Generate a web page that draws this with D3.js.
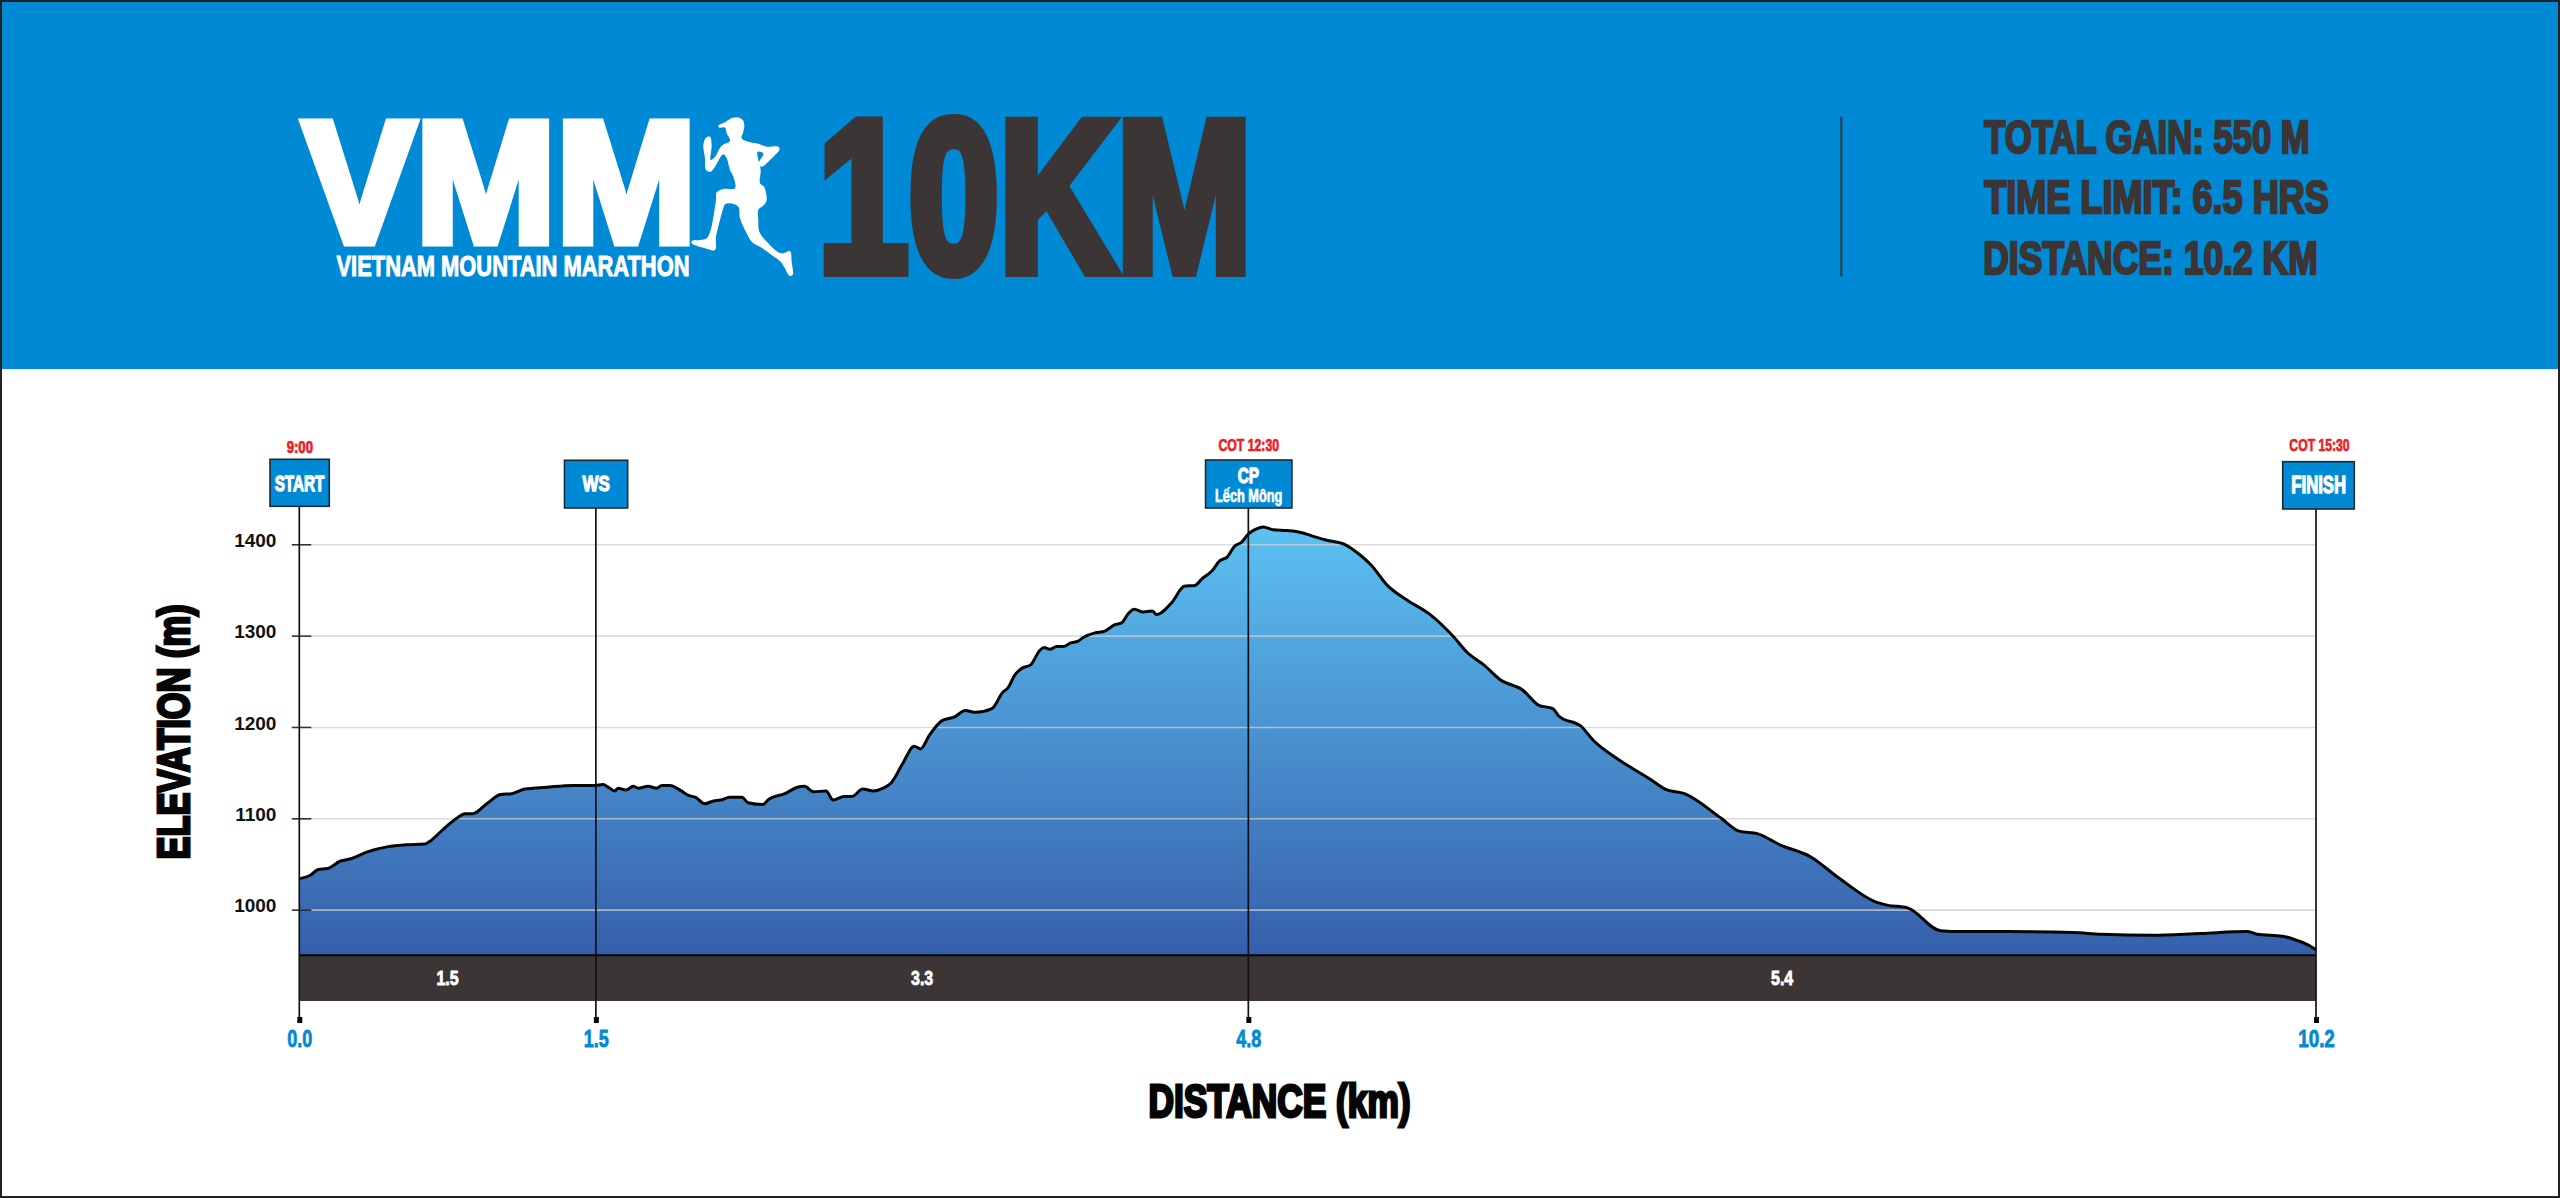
<!DOCTYPE html>
<html>
<head>
<meta charset="utf-8">
<title>VMM 10KM elevation profile</title>
<script src="https://cdn.jsdelivr.net/npm/d3@7"></script>
<style>
  html, body { margin: 0; padding: 0; background: #fff; }
  svg { display: block; }
  text { font-family: "Liberation Sans Narrow", "Liberation Sans", sans-serif; font-weight: 700; }
</style>
</head>
<body>
<div id="chart"></div>
<script>
// distance along the course (km) and elevation (m)
const distances = [0, .058, .096, .142, .206, .265, .341, .45, .543, .636, .661, .728, .796, .838, .877, .948, 1.018, 1.074, 1.141, 1.251, 1.386, 1.495, 1.537, 1.563, 1.596, 1.613, 1.652, 1.689, 1.714, 1.765, 1.807, 1.833, 1.875, 1.932, 1.969, 2.005, 2.05, 2.095, 2.131, 2.176, 2.239, 2.27, 2.344, 2.375, 2.456, 2.519, 2.555, 2.601, 2.664, 2.7, 2.754, 2.795, 2.85, 2.904, 2.953, 2.994, 3.052, 3.11, 3.142, 3.187, 3.251, 3.314, 3.368, 3.422, 3.503, 3.558, 3.585, 3.619, 3.653, 3.699, 3.746, 3.766, 3.796, 3.83, 3.864, 3.901, 3.939, 3.965, 4.024, 4.074, 4.125, 4.159, 4.192, 4.223, 4.268, 4.314, 4.336, 4.412, 4.476, 4.53, 4.564, 4.617, 4.656, 4.693, 4.731, 4.765, 4.799, 4.833, 4.875, 4.925, 4.993, 5.065, 5.124, 5.187, 5.286, 5.367, 5.422, 5.503, 5.602, 5.72, 5.837, 5.91, 5.991, 6.072, 6.19, 6.267, 6.34, 6.37, 6.487, 6.542, 6.668, 6.831, 6.908, 7.006, 7.192, 7.282, 7.378, 7.489, 7.643, 7.785, 7.979, 8.03, 8.134, 8.301, 8.404, 8.636, 8.972, 9.114, 9.372, 9.617, 9.855, 9.901, 10.03, 10.108, 10.172, 10.2];
const elevations = [1034, 1038, 1044, 1045, 1053, 1056, 1063, 1069, 1071, 1072, 1075, 1088, 1100, 1105, 1105, 1116, 1126, 1127, 1132, 1134, 1136, 1136, 1137, 1134, 1130, 1133, 1131, 1135, 1133, 1135, 1133, 1136, 1136, 1130, 1125, 1123, 1116, 1119, 1120, 1123, 1123, 1117, 1115, 1121, 1127, 1134, 1135, 1129, 1130, 1120, 1124, 1124, 1132, 1130, 1133, 1139, 1160, 1179, 1176, 1191, 1207, 1211, 1218, 1216, 1220, 1238, 1243, 1257, 1264, 1268, 1284, 1287, 1285, 1288, 1288, 1292, 1294, 1298, 1303, 1305, 1312, 1314, 1324, 1329, 1326, 1327, 1323, 1336, 1354, 1355, 1362, 1371, 1382, 1386, 1398, 1402, 1411, 1416, 1419, 1416, 1415, 1413, 1409, 1405, 1400, 1388, 1377, 1355, 1339, 1323, 1299, 1281, 1268, 1252, 1240, 1224, 1220, 1212, 1200, 1186, 1165, 1143, 1132, 1127, 1100, 1086, 1083, 1071, 1058, 1035, 1008, 1005, 1002, 977, 976, 976, 975, 973, 972, 974, 976, 973, 971, 966, 960, 956];

const elevationTicks = [1000, 1100, 1200, 1300, 1400];
const checkpointKm = [0, 1.5, 4.8, 10.2];
const checkpointNames = ["START", "WS", "CP", "FINISH"];
const checkpointPlaces = ["", "", "Lếch Mông", ""];
const cutoffLabels = ["9:00", "", "COT 12:30", "COT 15:30"];
const segmentLengths = ["1.5", "3.3", "5.4"];
const segmentMidKm = [0.75, 3.15, 7.5];
const statLines = ["TOTAL GAIN: 550 M", "TIME LIMIT: 6.5 HRS", "DISTANCE: 10.2 KM"];

const blue = "#0089d4", dark = "#3c3536", red = "#ee1c25";
const capRatio = 0.688;

const svg = d3.select("#chart").append("svg")
  .attr("width", 2560)
  .attr("height", 1198);

const x = d3.scaleLinear().domain([0, 10.2]).range([299.3, 2316]);
const y = d3.scaleLinear().domain([900, 1400]).range([1001, 544.3]);

// places a narrow bold text so its caps fill the given box; stroke makes it heavier
function fitText(parent, str, x0, x1, top, bottom, color, heavy = 0) {
  return parent.append("text")
    .text(str)
    .attr("x", x0 + heavy / 2)
    .attr("y", bottom - heavy / 2)
    .attr("font-size", (bottom - top - heavy) / capRatio)
    .attr("textLength", x1 - x0 - heavy)
    .attr("lengthAdjust", "spacingAndGlyphs")
    .attr("fill", color)
    .attr("stroke", heavy ? color : "none")
    .attr("stroke-width", heavy)
    .attr("stroke-linejoin", "miter");
}

svg.append("rect").attr("width", 2560).attr("height", 1198).attr("fill", "#fff");

// header band
const header = svg.append("g");
header.append("rect").attr("width", 2560).attr("height", 369).attr("fill", blue);
fitText(header, "VMM", 298.5, 701, 117.7, 246, "#fff", 9);
fitText(header, "VIETNAM MOUNTAIN MARATHON", 336, 690, 255.7, 276.7, "#fff", 1);
fitText(header, "10KM", 812, 1258, 117, 277.3, dark, 12);
header.append("rect").attr("x", 1840.3).attr("y", 116.7).attr("width", 2).attr("height", 160).attr("fill", dark);

const statBoxes = [[1983, 2311, 120, 154], [1983, 2330, 180.7, 214.7], [1982, 2319, 241.7, 275.7]];
statLines.forEach((s, i) => fitText(header, s, ...statBoxes[i], dark, 2.5));

// runner silhouette of the logo, traced at 3x
const runnerOutline = [[85,62],[105,52],[120,42],[140,37],[158,45],[163,60],[160,80],[155,100],[175,110],[200,115],[230,125],[265,125],[268,135],[255,150],[235,170],[215,185],[205,178],[220,145],[203,140],[205,165],[212,195],[210,235],[222,245],[230,285],[222,300],[205,314],[205,345],[208,380],[235,415],[262,440],[280,445],[300,438],[305,470],[308,510],[298,512],[285,490],[272,470],[245,450],[215,428],[185,410],[170,385],[150,340],[145,305],[120,295],[105,298],[100,310],[90,345],[78,395],[75,435],[45,430],[5,415],[5,408],[30,405],[50,400],[62,375],[72,325],[78,285],[80,262],[100,252],[135,250],[130,215],[120,195],[110,160],[100,148],[75,185],[62,200],[48,195],[45,160],[40,120],[48,98],[60,95],[65,120],[62,165],[75,155],[95,122],[120,108],[110,85],[105,68],[88,68]];
header.append("path")
  .attr("transform", "translate(690,105) scale(0.3333)")
  .attr("d", d3.line().curve(d3.curveCatmullRomClosed.alpha(0.5))(runnerOutline))
  .attr("fill", "#fff");

// elevation area
const defs = svg.append("defs");
const grad = defs.append("linearGradient")
  .attr("id", "elevationFill")
  .attr("gradientUnits", "userSpaceOnUse")
  .attr("x1", 0).attr("x2", 0)
  .attr("y1", y(1419)).attr("y2", y(950));
grad.append("stop").attr("offset", 0).attr("stop-color", "#5cc1f2");
grad.append("stop").attr("offset", 1).attr("stop-color", "#365fab");

const area = d3.area()
  .x(i => x(distances[i]))
  .y0(y(950))
  .y1(i => y(elevations[i]))
  .curve(d3.curveMonotoneX);
const profile = d3.line()
  .x(i => x(distances[i]))
  .y(i => y(elevations[i]))
  .curve(d3.curveMonotoneX);

svg.append("path")
  .attr("d", area(d3.range(distances.length)))
  .attr("fill", "url(#elevationFill)");

// gridlines sit on top of the fill and show through it
const grid = svg.append("g")
  .attr("transform", `translate(${x(0)},0)`)
  .call(d3.axisRight(y).tickValues(elevationTicks).tickSize(x(10.2) - x(0)).tickFormat(""));
grid.select(".domain").remove();
grid.selectAll("line")
  .attr("x1", 12)
  .attr("stroke", "#cfcfcf")
  .attr("stroke-opacity", 0.75)
  .attr("stroke-width", 1.6);

svg.append("path")
  .attr("d", profile(d3.range(distances.length)))
  .attr("fill", "none")
  .attr("stroke", "#050505")
  .attr("stroke-width", 3)
  .attr("stroke-linejoin", "round");

// distance band
svg.append("rect")
  .attr("x", x(0))
  .attr("y", y(950))
  .attr("width", x(10.2) - x(0))
  .attr("height", y(900) - y(950))
  .attr("fill", dark);
svg.append("line")
  .attr("x1", x(0)).attr("x2", x(10.2))
  .attr("y1", y(950)).attr("y2", y(950))
  .attr("stroke", "#050505").attr("stroke-width", 2);
segmentLengths.forEach((s, i) => {
  const cx = x(segmentMidKm[i]);
  fitText(svg, s, cx - 11.5, cx + 11.5, 970.5, 985, "#fff", 0.8);
});

// y axis
const yAxis = svg.append("g")
  .attr("transform", `translate(${x(0)},0)`)
  .call(d3.axisLeft(y).tickValues(elevationTicks).tickSize(7.5).tickPadding(0).tickFormat(d3.format("d")));
yAxis.select(".domain").remove();
yAxis.selectAll("line").attr("x1", -7.5).attr("x2", 12).attr("stroke", "#333").attr("stroke-width", 1.6);
yAxis.selectAll("text")
  .attr("x", -22.9)
  .attr("dy", "0.12em")
  .attr("fill", "#111")
  .style("font-family", "'Liberation Sans', sans-serif")
  .style("font-size", "19px")
  .style("font-weight", 700);

// x axis
const xAxis = svg.append("g")
  .attr("transform", "translate(0,1001)")
  .call(d3.axisBottom(x).tickValues(checkpointKm).tickSize(0).tickPadding(0).tickFormat(d3.format(".1f")));
xAxis.select(".domain").remove();
xAxis.selectAll("text")
  .attr("y", 45.5)
  .attr("dy", 0)
  .attr("fill", blue)
  .attr("stroke", blue)
  .attr("stroke-width", 0.8)
  .style("font-size", "24.5px")
  .attr("textLength", d => d === 10.2 ? 36.7 : 25)
  .attr("lengthAdjust", "spacingAndGlyphs");
xAxis.selectAll(".tick").append("rect")
  .attr("x", -2.5).attr("y", 16).attr("width", 5).attr("height", 6).attr("fill", "#050505");

// checkpoint flags
const flagBoxes = [[-29.3, 30, 459.3, 506.3], [-31.4, 31.8, 460.3, 508], [-42.8, 43.6, 460, 508], [-33.3, 38.3, 461.7, 509]];
const nameBoxes = [[-25.3, 25.7, 475, 491.7], [-13.9, 14.7, 475, 491.7], [-11.2, 11.4, 466.7, 483.3], [-25.3, 30.7, 476.7, 494]];
const cutoffBoxes = [[-13, 14, 441.7, 453.3], null, [-30.3, 31.1, 439, 451], [-27, 34, 439, 451]];

checkpointKm.forEach((km, i) => {
  const cx = x(km);
  const box = flagBoxes[i];
  svg.append("line")
    .attr("x1", cx).attr("x2", cx)
    .attr("y1", box[3]).attr("y2", 1017)
    .attr("stroke", "#111")
    .attr("stroke-width", 1.7);
  svg.append("rect")
    .attr("x", cx + box[0]).attr("y", box[2])
    .attr("width", box[1] - box[0]).attr("height", box[3] - box[2])
    .attr("fill", blue)
    .attr("stroke", "#1d2a33")
    .attr("stroke-width", 1.6);
  const n = nameBoxes[i];
  fitText(svg, checkpointNames[i], cx + n[0], cx + n[1], n[2], n[3], "#fff", 1.3);
  if (checkpointPlaces[i]) {
    fitText(svg, checkpointPlaces[i], cx - 33.6, cx + 34.3, 489, 502, "#fff", 0.7);
  }
  if (cutoffLabels[i]) {
    const c = cutoffBoxes[i];
    fitText(svg, cutoffLabels[i], cx + c[0], cx + c[1], c[2], c[3], red, 0.7);
  }
});

// axis titles
fitText(svg, "DISTANCE (km)", 1147, 1412, 1084, 1118.3, "#050505", 3);
const yTitle = svg.append("g").attr("transform", "translate(190.8,861) rotate(-90)");
fitText(yTitle, "ELEVATION (m)", 0, 258, -34, 0, "#050505", 3);

// thin frame round the whole picture
svg.append("rect")
  .attr("x", 1).attr("y", 1)
  .attr("width", 2558).attr("height", 1196)
  .attr("fill", "none")
  .attr("stroke", "#222")
  .attr("stroke-width", 2);
</script>
</body>
</html>
